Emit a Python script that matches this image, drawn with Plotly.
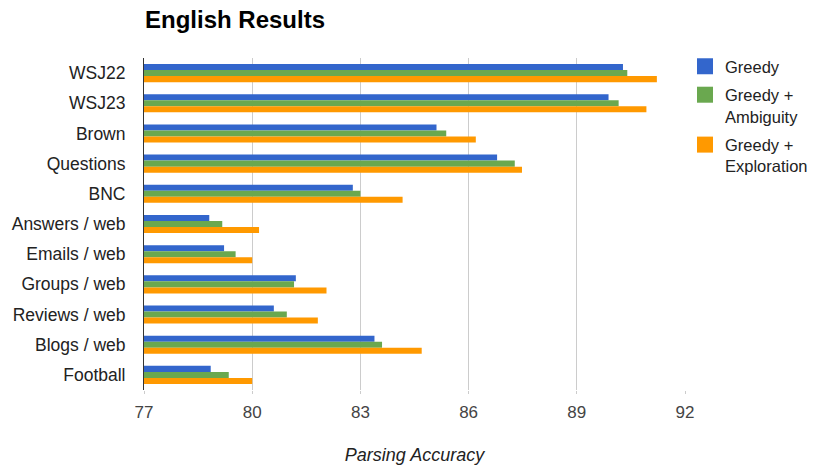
import plotly.graph_objects as go

categories = ["WSJ22", "WSJ23", "Brown", "Questions", "BNC", "Answers / web",
              "Emails / web", "Groups / web", "Reviews / web", "Blogs / web", "Football"]
greedy = [90.28, 89.88, 85.11, 86.79, 82.79, 78.81, 79.22, 81.21, 80.60, 83.39, 78.85]
greedy_ambiguity = [90.40, 90.16, 85.38, 87.28, 83.00, 79.17, 79.54, 81.16, 80.96, 83.60, 79.35]
greedy_exploration = [91.22, 90.93, 86.20, 87.48, 84.17, 80.19, 80.00, 82.06, 81.82, 84.70, 80.00]
series_names = ["Greedy", "Greedy +<br>Ambiguity", "Greedy +<br>Exploration"]
colors = ["#3366cc", "#6aa84f", "#ff9900"]
x_ticks = [77, 80, 83, 86, 89, 92]

fig = go.Figure()
for name, vals, col in zip(series_names, [greedy, greedy_ambiguity, greedy_exploration], colors):
    fig.add_trace(go.Bar(
        y=categories, x=[v - 77 for v in vals], base=77, orientation="h", name=name,
        marker=dict(color=col, line=dict(width=0)), showlegend=False, legendgroup=name,
        hovertemplate="%{y}: %{customdata}<extra></extra>", customdata=vals,
    ))
# legend entries with larger square swatches
for name, col in zip(series_names, colors):
    fig.add_trace(go.Scatter(
        x=[None], y=[None], mode="markers", name=name, legendgroup=name,
        marker=dict(symbol="square", size=16, color=col, line=dict(width=0)),
    ))

fig.update_layout(
    width=816, height=465,
    barmode="group", bargap=0.4, bargroupgap=0,
    plot_bgcolor="white", paper_bgcolor="white",
    font=dict(family="Liberation Sans, Arial, sans-serif", size=17, color="#222222"),
    title=dict(text="<b>English Results</b>", x=145/816, xanchor="left", y=1 - 20/465, yanchor="middle",
               font=dict(size=24, color="#000000")),
    margin=dict(l=144, r=131, t=58, b=75, autoexpand=False),
    legend=dict(x=1.0, y=1.027, xanchor="left", yanchor="top", font=dict(size=16.5, color="#222222"),
                valign="top", tracegroupgap=4, itemwidth=30, bgcolor="rgba(0,0,0,0)"),
)
fig.update_xaxes(range=[77, 92], tickvals=x_ticks, ticktext=[str(t) for t in x_ticks],
                 showgrid=True, gridcolor="#cccccc", gridwidth=1, zeroline=False, automargin=False,
                 showline=False, ticks="outside", ticklen=3, tickcolor="#cccccc",
                 ticklabelstandoff=4, tickfont=dict(size=17, color="#444444"),
                 title=dict(text="<i>Parsing Accuracy</i>", standoff=32, font=dict(size=18, color="#222222")))
fig.update_yaxes(autorange="reversed", showline=True, linecolor="#333333", linewidth=1, automargin=False,
                 ticks="", ticklabelstandoff=14, tickfont=dict(size=17.5, color="#222222"), showgrid=False)

fig.write_html("out.html")
